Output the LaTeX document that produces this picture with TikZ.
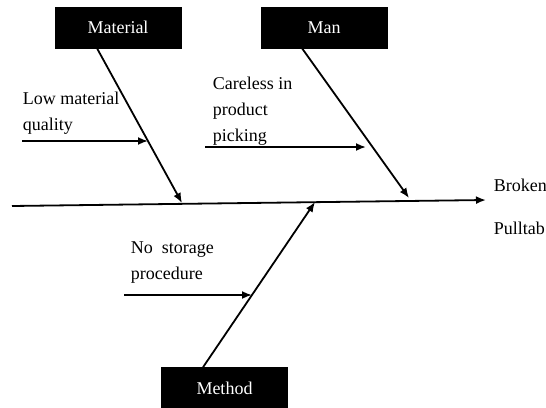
\documentclass[tikz,border=0pt]{standalone}
\usepackage{fontspec}
\setmainfont{Liberation Serif}
\usetikzlibrary{arrows.meta}

\begin{document}
\begin{tikzpicture}[x=1pt, y=-1pt, line width=1.8pt, font=\fontsize{18}{26}\selectfont,
  box/.style = {draw, fill=black, text=white, minimum width=126pt, minimum height=41pt, inner sep=0pt, line width=0.5pt},
  cause/.style = {align=left, anchor=north west, inner sep=0pt},
  arr/.style = {-{Latex[length=10pt, width=8pt]}}]
        \useasboundingbox (0,0) rectangle (546,407);
        % category boxes
        \node[box] (material) at (118,27.5) {Material};
        \node[box] (man) at (324,27.5) {Man};
        \node[box] (method) at (224.5,388) {Method};
        % causes and effect
        \node[cause] (lowq) at (22,91) {Low material\\quality};
        \node[cause] (careless) at (212,76) {Careless in\\product\\picking};
        \node[cause] (nostore) at (130,241) {No\ \ storage\\procedure};
        \node[cause] (effect) at (493,178) {Broken\\[17pt]Pulltab};
        % spine
        \coordinate (tail) at (12,206);
        \coordinate (head) at (486,200);
        \draw[arr] (tail) -- (head);
        % bones
        \coordinate (matend) at (182,203);
        \coordinate (manend) at (409,198);
        \coordinate (metend) at (315,202);
        \draw[arr] ([xshift=-21pt]material.south) -- (matend);
        \draw[arr] ([xshift=-22pt]man.south) -- (manend);
        \draw[arr] ([xshift=-21.5pt]method.north) -- (metend);
        % cause arrows
        \coordinate (lq1) at (22,141);
        \coordinate (lq2) at (148,141);
        \coordinate (ca1) at (205,147);
        \coordinate (ca2) at (366,147);
        \coordinate (ns1) at (124,295);
        \coordinate (ns2) at (252,295);
        \draw[arr] (lq1) -- (lq2);
        \draw[arr] (ca1) -- (ca2);
        \draw[arr] (ns1) -- (ns2);
\end{tikzpicture}
\end{document}
